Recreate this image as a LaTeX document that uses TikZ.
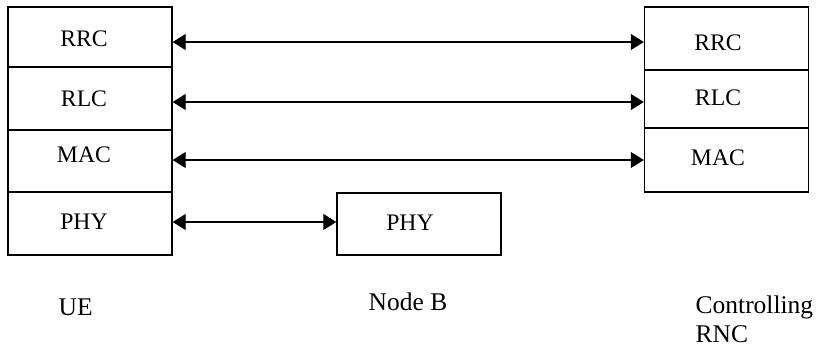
\documentclass[tikz,border=0pt]{standalone}
\usepackage{fontspec}
\setmainfont{Liberation Serif}
\usetikzlibrary{positioning, arrows.meta}
\tikzset{
every picture/.style={
line width=0.8pt
}}
\tikzset{
  layer/.style={draw, minimum width=3.28cm, inner sep=0pt},
  msg/.style={{Triangle[length=0.26cm, width=0.32cm]}-{Triangle[length=0.26cm, width=0.32cm]}, line width=0.6pt},
  boxtxt/.style={font=\fontsize{13.5}{16}\selectfont, inner sep=0pt},
  sidetxt/.style={font=\fontsize{14.5}{16.4}\selectfont, inner sep=0pt, anchor=base west}
}
\begin{document}
\begin{tikzpicture}[x=0.02cm, y=-0.02cm]
  \useasboundingbox (0,0) rectangle (818,346);

  % UE stack
  \foreach \n/\l/\t/\b/\ty in {ueRRC/RRC/7/67/39, ueRLC/RLC/67/130/99, ueMAC/MAC/130/192/155, uePHY/PHY/192/255/222} {
    \node [layer, minimum height={(\b-\t)*0.02cm}] (\n) at (90, {(\t+\b)/2}) {};
    \node [boxtxt] (\n-txt) at (84, \ty) {\l};
  }

  % Controlling RNC stack
  \foreach \n/\l/\t/\b/\ty in {rncRRC/RRC/7/70/43, rncRLC/RLC/70/128/98, rncMAC/MAC/128/192/158} {
    \node [layer, minimum height={(\b-\t)*0.02cm}] (\n) at (726.5, {(\t+\b)/2}) {};
    \node [boxtxt] (\n-txt) at (718, \ty) {\l};
  }

  % Node B
  \node [layer, minimum height=1.24cm] (nbPHY) at (419, 224) {};
  \node [boxtxt] (nbPHY-txt) at (410, 223) {PHY};

  % peer to peer
  \draw [msg] ([yshift=-0.1cm]ueRRC.east) -- ([yshift=-0.1cm]ueRRC.east -| rncRRC.west);
  \draw [msg] ([yshift=-0.07cm]ueRLC.east) -- ([yshift=-0.07cm]ueRLC.east -| rncRLC.west);
  \draw [msg] ([yshift=0.02cm]ueMAC.east) -- ([yshift=0.02cm]ueMAC.east -| rncMAC.west);
  \draw [msg] ([yshift=0.03cm]uePHY.east) -- ([yshift=0.03cm]uePHY.east -| nbPHY.west);

  \node [sidetxt] (ue) at (58, 315) {UE};
  \node [sidetxt] (nodeb) at (368, 310) {Node B};
  \node [sidetxt, align=left] (rnc) at (695, 342) {Controlling\\RNC};
\end{tikzpicture}
\end{document}
